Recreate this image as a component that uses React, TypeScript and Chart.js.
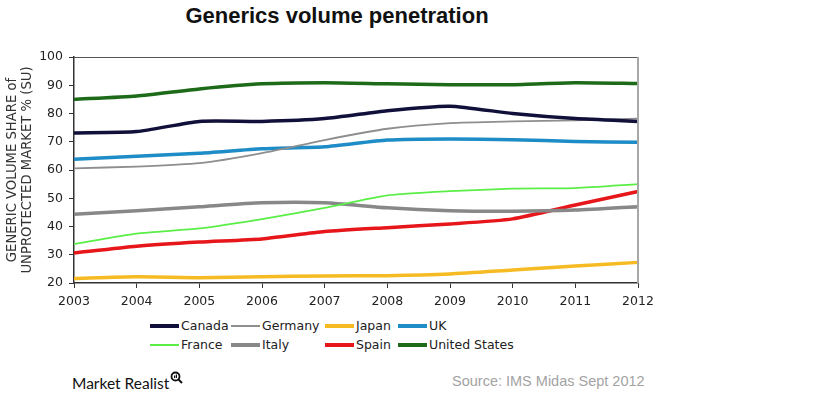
import React, { useEffect, useRef } from "react";
import { Chart, registerables } from "chart.js";

Chart.register(...registerables);

const years = ["2003", "2004", "2005", "2006", "2007", "2008", "2009", "2010", "2011", "2012"];
const canada = [73.1, 73.6, 77.2, 77.2, 78.2, 81.0, 82.6, 80.0, 78.2, 77.2];
const germany = [60.6, 61.2, 62.4, 66.0, 70.6, 74.6, 76.6, 77.2, 77.6, 78.2];
const japan = [21.6, 22.2, 21.9, 22.2, 22.5, 22.6, 23.2, 24.6, 26.0, 27.3];
const uk = [63.8, 64.9, 65.9, 67.5, 68.2, 70.6, 71.0, 70.7, 70.1, 69.8];
const france = [33.8, 37.5, 39.3, 42.6, 46.6, 51.0, 52.5, 53.4, 53.6, 55.0];
const italy = [44.3, 45.6, 47.0, 48.4, 48.4, 46.6, 45.6, 45.4, 45.8, 47.0];
const spain = [30.6, 33.0, 34.5, 35.6, 38.2, 39.6, 40.9, 42.7, 47.6, 52.4];
const usa = [85.0, 86.2, 88.7, 90.5, 90.9, 90.5, 90.2, 90.2, 90.9, 90.6];

const yTicks = [20, 30, 40, 50, 60, 70, 80, 90, 100];

const series = [
  { label: "Canada", data: canada, color: "#10103a", width: 3.5 },
  { label: "Germany", data: germany, color: "#8e8e8e", width: 1.8 },
  { label: "Japan", data: japan, color: "#f6bb22", width: 3.5 },
  { label: "UK", data: uk, color: "#1e8cc6", width: 3.5 },
  { label: "France", data: france, color: "#5aee46", width: 1.8 },
  { label: "Italy", data: italy, color: "#888888", width: 3.5 },
  { label: "Spain", data: spain, color: "#e6161b", width: 3.5 },
  { label: "United States", data: usa, color: "#1d6a18", width: 3.5 },
];

const legendCols = [150, 231, 325, 398];
const legendRows = [326, 345];

const borderPlugin = {
  id: "boxBorder",
  afterDraw(chart: any) {
    const { ctx, chartArea } = chart;
    ctx.save();
    ctx.strokeStyle = "#555555";
    ctx.lineWidth = 1;
    ctx.beginPath();
    ctx.moveTo(chartArea.left, chartArea.top + 0.5);
    ctx.lineTo(chartArea.right, chartArea.top + 0.5);
    ctx.stroke();
    ctx.strokeStyle = "#a8a8a8";
    ctx.lineWidth = 2;
    ctx.beginPath();
    ctx.moveTo(chartArea.right, chartArea.top);
    ctx.lineTo(chartArea.right, chartArea.bottom);
    ctx.stroke();
    ctx.restore();
  },
};

export default function App() {
  const ref = useRef<HTMLCanvasElement>(null);

  useEffect(() => {
    if (!ref.current) return;
    const chart = new Chart(ref.current, {
      type: "line",
      data: {
        labels: years,
        datasets: series.map((s) => ({
          label: s.label,
          data: s.data,
          borderColor: s.color,
          backgroundColor: s.color,
          borderWidth: s.width,
          pointRadius: 0,
          tension: 0.2,
          fill: false,
        })),
      },
      options: {
        animation: false,
        responsive: false,
        maintainAspectRatio: false,
        layout: { padding: { top: 57, right: 202, left: 0, bottom: 0 } },
        plugins: {
          legend: { display: false },
          title: { display: false },
          tooltip: { enabled: false },
        },
        scales: {
          x: {
            offset: false,
            grid: { drawOnChartArea: false, drawTicks: true, tickLength: 5, color: "#333" },
            border: { color: "#333", width: 1.5 },
            ticks: {
              color: "#222",
              padding: 6,
              maxRotation: 0,
              font: { family: "DejaVu Sans", size: 12.5 },
            },
          },
          y: {
            min: 20,
            max: 100,
            afterFit: (scale: any) => {
              scale.width = 74;
            },
            afterBuildTicks: (scale: any) => {
              scale.ticks = yTicks.map((v) => ({ value: v }));
            },
            grid: { drawOnChartArea: false, drawTicks: true, tickLength: 5, color: "#333" },
            border: { color: "#333", width: 1.5 },
            ticks: {
              color: "#222",
              padding: 6,
              font: { family: "DejaVu Sans", size: 12.5 },
            },
            title: {
              display: true,
              text: ["GENERIC VOLUME SHARE of", "UNPROTECTED MARKET % (SU)"],
              color: "#333",
              font: { family: "DejaVu Sans", size: 13.2, lineHeight: 1.15 },
              padding: { top: 4.5, bottom: 0 },
            },
          },
        },
      },
      plugins: [borderPlugin],
    });
    return () => chart.destroy();
  }, []);

  return (
    <div
      style={{
        position: "absolute",
        left: 0,
        top: 0,
        width: 840,
        height: 402,
        background: "#fff",
        overflow: "hidden",
      }}
    >
      <div
        style={{
          position: "absolute",
          left: 137,
          width: 400,
          top: 3,
          textAlign: "center",
          fontFamily: "Liberation Sans, Arial, sans-serif",
          fontWeight: "bold",
          fontSize: 22,
          lineHeight: "26px",
          color: "#111",
        }}
      >
        Generics volume penetration
      </div>
      <canvas ref={ref} width={840} height={315} style={{ position: "absolute", left: 0, top: 0, width: 840, height: 315 }} />
      {series.map((s, i) => {
        const col = i % 4;
        const row = Math.floor(i / 4);
        const x = legendCols[col];
        const y = legendRows[row];
        return (
          <div key={s.label}>
            <div
              style={{
                position: "absolute",
                left: x,
                top: y - s.width / 2,
                width: 29,
                height: s.width,
                background: s.color,
              }}
            />
            <div
              style={{
                position: "absolute",
                left: x + 31,
                top: y - 8,
                height: 16,
                lineHeight: "16px",
                fontFamily: "DejaVu Sans, sans-serif",
                fontSize: 12.5,
                color: "#222",
                whiteSpace: "nowrap",
              }}
            >
              {s.label}
            </div>
          </div>
        );
      })}
      <div
        style={{
          position: "absolute",
          left: 72,
          top: 373,
          fontFamily: "Lato, sans-serif",
          fontSize: 15.5,
          lineHeight: "20px",
          color: "#111",
          whiteSpace: "nowrap",
          display: "flex",
          alignItems: "flex-start",
        }}
      >
        <span>Market Realist</span>
        <svg width="13" height="13" viewBox="0 0 13 13" style={{ marginLeft: 1, marginTop: -2 }}>
          <circle cx="5.5" cy="5.5" r="4" fill="none" stroke="#111" strokeWidth="1.8" />
          <line x1="8.5" y1="8.5" x2="12" y2="12" stroke="#111" strokeWidth="2" />
          <rect x="4" y="4.5" width="1.2" height="2.5" fill="#111" />
          <rect x="5.8" y="3.5" width="1.2" height="3.5" fill="#111" />
        </svg>
      </div>
      <div
        style={{
          position: "absolute",
          left: 452,
          top: 372,
          fontFamily: "Liberation Sans, Arial, sans-serif",
          fontSize: 14.5,
          lineHeight: "18px",
          color: "#a3a3a3",
          whiteSpace: "nowrap",
        }}
      >
        Source: IMS Midas Sept 2012
      </div>
    </div>
  );
}
